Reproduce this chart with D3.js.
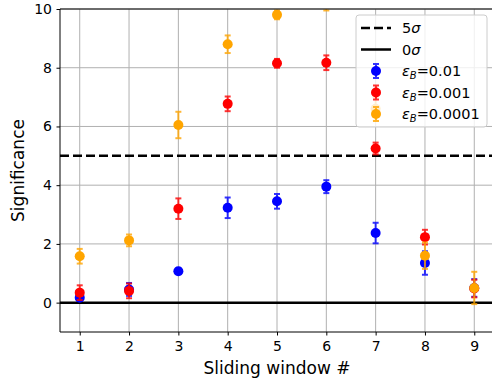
<!DOCTYPE html>
<html lang="en">
<head>
<meta charset="utf-8">
<title>Significance per sliding window</title>
<script type="text/javascript" src="https://d3js.org/d3.v7.min.js"></script>
<style>
  body { margin: 0; background: #fff; }
  text { font-family: "DejaVu Sans", sans-serif; fill: #000; }
</style>
</head>
<body>
<div id="container"></div>
<script type="text/javascript">

var windows = [1, 2, 3, 4, 5, 6, 7, 8, 9];
var xTicks = [1, 2, 3, 4, 5, 6, 7, 8, 9];
var yTicks = [0, 2, 4, 6, 8, 10];

// significance and its error per window, one pair per epsilon_B
var sig001 = [0.17, 0.45, 1.07, 3.23, 3.45, 3.95, 2.37, 1.35, 0.50];
var err001 = [0.10, 0.22, 0.10, 0.35, 0.25, 0.22, 0.35, 0.40, 0.30];
var sig0001 = [0.34, 0.40, 3.20, 6.77, 8.15, 8.17, 5.25, 2.23, 0.48];
var err0001 = [0.25, 0.25, 0.35, 0.25, 0.15, 0.25, 0.20, 0.25, 0.30];
var sig00001 = [1.58, 2.12, 6.05, 8.80, 9.80, 10.30, 6.60, 1.60, 0.50];
var err00001 = [0.25, 0.20, 0.45, 0.30, 0.15, 0.35, 0.40, 0.45, 0.55];

var seriesNames = ["0.01", "0.001", "0.0001"];
var seriesColors = ["blue", "red", "orange"];
var seriesVals = [sig001, sig0001, sig00001];
var seriesErrs = [err001, err0001, err00001];

var w = 492, h = 381;
var pLeft = 60, pRight = 494, pTop = 9, pBottom = 332;

var svg = d3.select("div#container").append("svg")
    .attr("width", w).attr("height", h);

var x = d3.scaleLinear().domain([0.6, 9.4]).range([pLeft, pRight]);
var y = d3.scaleLinear().domain([-1, 10]).range([pBottom, pTop]);

svg.append("clipPath").attr("id", "plotclip")
  .append("rect").attr("x", pLeft).attr("y", pTop)
  .attr("width", pRight - pLeft).attr("height", pBottom - pTop);

// grid
var grid = svg.append("g");
grid.selectAll("line.vg").data(xTicks).enter().append("line")
    .attr("x1", d => x(d)).attr("x2", d => x(d))
    .attr("y1", pTop).attr("y2", pBottom)
    .attr("stroke", "#b0b0b0").attr("stroke-width", 1);
grid.selectAll("line.hg").data(yTicks).enter().append("line")
    .attr("x1", pLeft).attr("x2", pRight)
    .attr("y1", d => y(d)).attr("y2", d => y(d))
    .attr("stroke", "#b0b0b0").attr("stroke-width", 1);

// 5 sigma and 0 sigma lines
svg.append("line")
    .attr("x1", pLeft).attr("x2", pRight).attr("y1", y(5)).attr("y2", y(5))
    .attr("stroke", "#000").attr("stroke-width", 2.5).attr("stroke-dasharray", "9,4");
svg.append("line")
    .attr("x1", pLeft).attr("x2", pRight).attr("y1", y(0)).attr("y2", y(0))
    .attr("stroke", "#000").attr("stroke-width", 2.5);

// error bars + points
var plot = svg.append("g").attr("clip-path", "url(#plotclip)");
seriesVals.forEach(function(vals, s) {
  var g = plot.append("g");
  var errs = seriesErrs[s];
  var col = seriesColors[s];
  var pts = windows.map((wd, i) => ({x: wd, v: vals[i], e: errs[i]}));
  var eb = g.append("g").attr("stroke", col).attr("stroke-width", 2).attr("opacity", 0.8);
  eb.selectAll("line.bar").data(pts).enter().append("line")
      .attr("x1", d => x(d.x)).attr("x2", d => x(d.x))
      .attr("y1", d => y(d.v - d.e)).attr("y2", d => y(d.v + d.e));
  eb.selectAll("line.capt").data(pts).enter().append("line")
      .attr("x1", d => x(d.x) - 3).attr("x2", d => x(d.x) + 3)
      .attr("y1", d => y(d.v + d.e)).attr("y2", d => y(d.v + d.e));
  eb.selectAll("line.capb").data(pts).enter().append("line")
      .attr("x1", d => x(d.x) - 3).attr("x2", d => x(d.x) + 3)
      .attr("y1", d => y(d.v - d.e)).attr("y2", d => y(d.v - d.e));
  g.selectAll("circle").data(pts).enter().append("circle")
      .attr("cx", d => x(d.x)).attr("cy", d => y(d.v))
      .attr("r", 5).attr("fill", col);
});

// spines
svg.append("line").attr("x1", pLeft).attr("x2", pLeft).attr("y1", pTop).attr("y2", pBottom)
    .attr("stroke", "#000").attr("stroke-width", 1);
svg.append("line").attr("x1", pLeft).attr("x2", pRight).attr("y1", pBottom).attr("y2", pBottom)
    .attr("stroke", "#000").attr("stroke-width", 1);
svg.append("line").attr("x1", pLeft).attr("x2", pRight).attr("y1", pTop).attr("y2", pTop)
    .attr("stroke", "#000").attr("stroke-width", 1);

// axes
var xAxis = svg.append("g").attr("transform", "translate(0," + pBottom + ")")
    .call(d3.axisBottom(x).tickValues(xTicks).tickSize(3.5).tickPadding(5.5).tickFormat(d3.format("d")));
var yAxis = svg.append("g").attr("transform", "translate(" + pLeft + ",0)")
    .call(d3.axisLeft(y).tickValues(yTicks).tickSize(3.5).tickPadding(4.5).tickFormat(d3.format("d")));
[xAxis, yAxis].forEach(function(a) {
  a.select(".domain").remove();
  a.attr("font-size", null).attr("font-family", null);
  a.selectAll("text").style("font-size", "14px").style("font-family", "DejaVu Sans");
});

svg.append("text").attr("x", (pLeft + pRight) / 2).attr("y", 374)
    .attr("text-anchor", "middle").style("font-size", "17px").text("Sliding window #");
svg.append("text").attr("transform", "translate(24," + ((pTop + pBottom) / 2) + ") rotate(-90)")
    .attr("text-anchor", "middle").style("font-size", "17px").text("Significance");

// legend
var lg = svg.append("g");
lg.append("rect").attr("x", 356).attr("y", 15).attr("width", 131).attr("height", 112)
    .attr("rx", 3).attr("fill", "#fff").attr("fill-opacity", 0.8)
    .attr("stroke", "#cccccc").attr("stroke-width", 1);
var rowY = [28, 49.5, 71, 92.5, 114];
var lfs = "14.5px";
lg.append("line").attr("x1", 361).attr("x2", 391).attr("y1", rowY[0]).attr("y2", rowY[0])
    .attr("stroke", "#000").attr("stroke-width", 2.5).attr("stroke-dasharray", "9,4");
lg.append("line").attr("x1", 361).attr("x2", 391).attr("y1", rowY[1]).attr("y2", rowY[1])
    .attr("stroke", "#000").attr("stroke-width", 2.5);
var t0 = lg.append("text").attr("x", 402).attr("y", rowY[0] + 5).style("font-size", lfs);
t0.append("tspan").text("5");
t0.append("tspan").style("font-style", "italic").text("σ");
var t1 = lg.append("text").attr("x", 402).attr("y", rowY[1] + 5).style("font-size", lfs);
t1.append("tspan").text("0");
t1.append("tspan").style("font-style", "italic").text("σ");
seriesNames.forEach(function(nm, s) {
  var cy = rowY[s + 2], cx = 376, col = seriesColors[s];
  var eg = lg.append("g").attr("stroke", col).attr("stroke-width", 2).attr("opacity", 0.8);
  eg.append("line").attr("x1", cx).attr("x2", cx).attr("y1", cy - 7).attr("y2", cy + 7);
  eg.append("line").attr("x1", cx - 3).attr("x2", cx + 3).attr("y1", cy - 7).attr("y2", cy - 7);
  eg.append("line").attr("x1", cx - 3).attr("x2", cx + 3).attr("y1", cy + 7).attr("y2", cy + 7);
  lg.append("circle").attr("cx", cx).attr("cy", cy).attr("r", 5).attr("fill", col);
  var t = lg.append("text").attr("x", 402).attr("y", cy + 5).style("font-size", lfs);
  t.append("tspan").style("font-style", "italic").text("ε");
  t.append("tspan").style("font-style", "italic").style("font-size", "10px").attr("dy", 3).text("B");
  t.append("tspan").attr("dy", -3).text("=" + nm);
});

</script>
</body>
</html>
